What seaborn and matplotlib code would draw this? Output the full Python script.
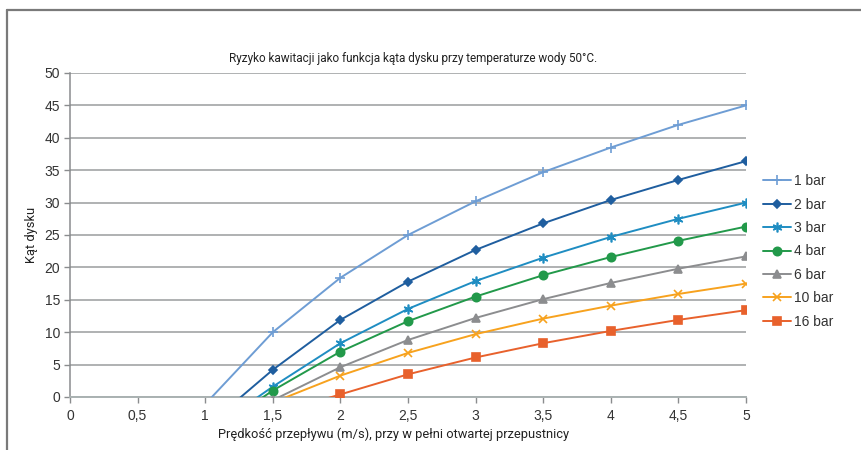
import numpy as np
import pandas as pd
import matplotlib
matplotlib.use("Agg")
import matplotlib.pyplot as plt
from matplotlib.lines import Line2D
import seaborn as sns

# prędkość przepływu (m/s)
predkosc = [1.0, 1.5, 2.0, 2.5, 3.0, 3.5, 4.0, 4.5, 5.0]

nan = np.nan
kat_1bar = [-1.1, 10.0, 18.4, 25.0, 30.2, 34.7, 38.5, 42.0, 45.0]
kat_2bar = [-4.7, 4.2, 11.9, 17.8, 22.7, 26.8, 30.4, 33.5, 36.4]
kat_3bar = [-5.7, 1.6, 8.3, 13.6, 17.9, 21.5, 24.7, 27.5, 30.0]
kat_4bar = [-6.1, 1.0, 7.0, 11.7, 15.5, 18.8, 21.6, 24.1, 26.3]
kat_6bar = [nan, -0.5, 4.6, 8.8, 12.2, 15.1, 17.6, 19.8, 21.7]
kat_10bar = [nan, -0.85, 3.3, 6.8, 9.7, 12.1, 14.1, 15.9, 17.5]
kat_16bar = [nan, -2.7, 0.4, 3.5, 6.1, 8.3, 10.2, 11.9, 13.4]

serie = ["1 bar", "2 bar", "3 bar", "4 bar", "6 bar", "10 bar", "16 bar"]
wartosci = [kat_1bar, kat_2bar, kat_3bar, kat_4bar, kat_6bar, kat_10bar, kat_16bar]
kolory = ["#6e9dd4", "#1f5e9f", "#1f8dc2", "#22994a", "#8c8d8f", "#f7a21e", "#e8612c"]
markery = ["+", "D", (6, 2, 0), "o", "^", "x", "s"]
rozmiary = [7, 4.5, 7, 6, 6, 6, 6]

sns.set_theme(style="white")
plt.rcParams["font.family"] = ["Liberation Sans", "DejaVu Sans"]
waska = ["Roboto", "DejaVu Sans"]

fig = plt.figure(figsize=(8.62, 4.5), dpi=100)
ax = fig.add_axes([70 / 862, 53 / 450, 676 / 862, 324 / 450])

uchwyty = []
for nazwa, y, kolor, marker, ms in zip(serie, wartosci, kolory, markery, rozmiary):
    df = pd.DataFrame({"x": predkosc, "y": y}).dropna()
    sns.lineplot(data=df, x="x", y="y", ax=ax, color=kolor, marker=marker,
                 markersize=ms, markeredgecolor=kolor, markeredgewidth=1.2,
                 linewidth=1.4, sort=False, zorder=3)
    uchwyty.append(Line2D([], [], color=kolor, marker=marker, markersize=ms,
                          markeredgecolor=kolor, markeredgewidth=1.2, linewidth=1.4))

ax.set_xlim(0, 5)
ax.set_ylim(0, 50)
ax.set_xticks(np.arange(0, 5.01, 0.5))
ax.set_yticks(np.arange(0, 51, 5))
ax.set_xticklabels(["0", "0,5", "1", "1,5", "2", "2,5", "3", "3,5", "4", "4,5", "5"])
ax.yaxis.grid(True, color="#9a9c9e", linewidth=1.1)
ax.xaxis.grid(False)
for s in ["top", "right"]:
    ax.spines[s].set_visible(False)
ax.spines["left"].set_color("#8a8c8e")
ax.spines["bottom"].set_color("#a9b1b1")
ax.spines["left"].set_linewidth(1.1)
ax.spines["bottom"].set_linewidth(1.4)
ax.tick_params(axis="both", which="major", length=4, width=1, color="#8a8c8e",
               labelsize=10, labelcolor="#333333", pad=3)
ax.tick_params(axis="x", pad=5)
ax.tick_params(left=True, bottom=True)

ax.set_title("Ryzyko kawitacji jako funkcja kąta dysku przy temperaturze wody 50°C.",
             fontsize=8.5, family=waska, color="#222222", pad=8, x=0.507)
ax.set_xlabel("Prędkość przepływu (m/s), przy w pełni otwartej przepustnicy",
              fontsize=9.3, family=waska, color="#222222", labelpad=4)
ax.xaxis.set_label_coords(0.478, -0.095)
ax.set_ylabel("Kąt dysku", fontsize=9.3, family=waska, color="#222222", labelpad=5)

leg = ax.legend(uchwyty, serie, loc="upper left", bbox_to_anchor=(1.017, 0.705),
                frameon=False, fontsize=10, handlelength=2.0, handletextpad=0.2,
                labelspacing=0.68, borderaxespad=0)
for t in leg.get_texts():
    t.set_color("#333333")

# ramka wokół wykresu
fig.add_artist(Line2D([7 / 862, 1], [1 - 10 / 450, 1 - 10 / 450], color="#7a7a7a",
                      linewidth=1.6, transform=fig.transFigure))
fig.add_artist(Line2D([7 / 862, 7 / 862], [0, 1 - 10 / 450], color="#7a7a7a",
                      linewidth=1.6, transform=fig.transFigure))

fig.savefig("out.png", dpi=100)
